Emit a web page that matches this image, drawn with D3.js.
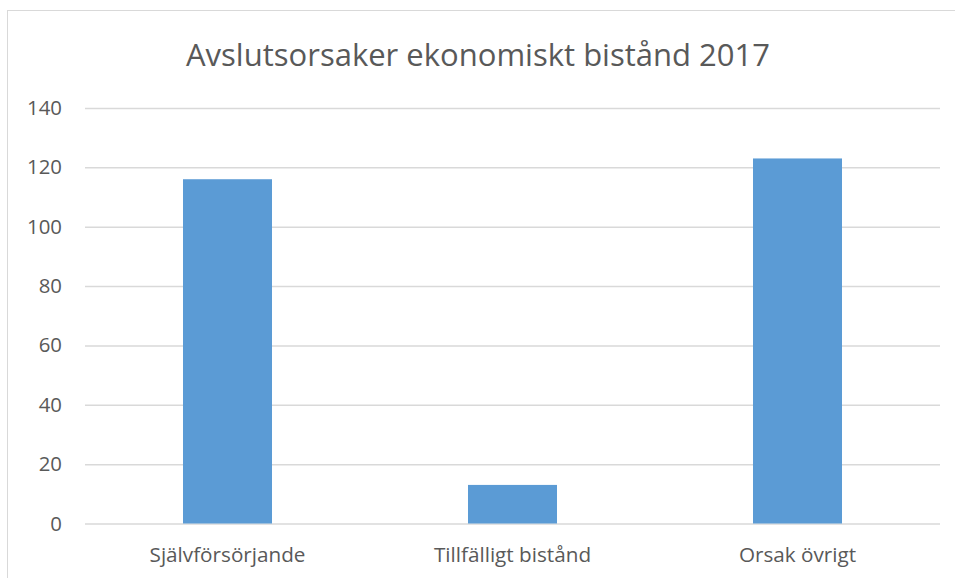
<!DOCTYPE html>
<html>
<head>
<meta charset="utf-8">
<script src="https://cdn.jsdelivr.net/npm/d3@7"></script>
<style>
  body { margin: 0; background: #fff; }
  svg { display: block; font-family: "Open Sans", sans-serif; }
</style>
</head>
<body>
<svg id="chart" width="955" height="578"></svg>
<script>
const title = "Avslutsorsaker ekonomiskt bistånd 2017";
const categories = ["Självförsörjande", "Tillfälligt bistånd", "Orsak övrigt"];
const values = [116, 13, 123];
const yTicks = [0, 20, 40, 60, 80, 100, 120, 140];

const textColor = "#595959";
const gridColor = "#d9d9d9";
const barColor = "#5b9bd5";

var svg = d3.select("#chart");

// chart frame (right/bottom edges fall outside the window)
svg.append("rect")
    .attr("x", 7.5).attr("y", 10.5)
    .attr("width", 960).attr("height", 600)
    .attr("fill", "#fff")
    .attr("stroke", gridColor)
    .attr("stroke-width", 1);

let plot = { left: 85, right: 940, top: 108, bottom: 523.5 };

var y = d3.scaleLinear().domain([0, 140]).range([plot.bottom, plot.top]);
var x = d3.scaleBand().domain(categories).range([plot.left, plot.right])
    .paddingInner(0.6877).paddingOuter(0.6877 / 2);

// shrink/grow a text node's font until it is about the target width
function fitWidth(node, target) {
    let size = parseFloat(node.getAttribute("font-size"));
    let w = node.getComputedTextLength();
    node.setAttribute("font-size", (size * target / w).toFixed(2));
}

// gridlines + y labels
var yAxis = svg.append("g")
    .attr("transform", `translate(${plot.left},0)`)
    .call(d3.axisLeft(y).tickValues(yTicks).tickSize(-(plot.right - plot.left)).tickPadding(23));
yAxis.select(".domain").remove();
yAxis.selectAll(".tick line").attr("stroke", gridColor).attr("stroke-width", 1.5);
yAxis.selectAll(".tick text")
    .attr("fill", textColor)
    .attr("font-family", "Open Sans")
    .attr("font-size", 18);
let ySize = 18 * 35 / yAxis.select(".tick:last-of-type text").node().getComputedTextLength();
yAxis.selectAll(".tick text").attr("font-size", ySize.toFixed(2));

// bars
svg.selectAll(".bar")
    .data(values)
    .enter()
    .append("rect")
    .attr("class", "bar")
    .attr("x", function (d, i) { return x(categories[i]) })
    .attr("y", function (d) { return y(d) })
    .attr("width", x.bandwidth())
    .attr("height", function (d) { return y(0) - y(d) })
    .attr("fill", barColor);

// category labels
var xAxis = svg.append("g")
    .attr("transform", `translate(0,${plot.bottom})`)
    .call(d3.axisBottom(x).tickSize(0).tickPadding(24));
xAxis.select(".domain").remove();
xAxis.selectAll(".tick text")
    .attr("fill", textColor)
    .attr("font-family", "Open Sans")
    .attr("font-size", 18);
let xNode = xAxis.select(".tick text").node();
let xSize = 18 * 156 / xNode.getComputedTextLength();
xAxis.selectAll(".tick text").attr("font-size", xSize.toFixed(2));

// title
var t = svg.append("text")
    .attr("x", 478)
    .attr("y", 66)
    .attr("text-anchor", "middle")
    .attr("fill", textColor)
    .attr("font-size", 32)
    .text(title);
fitWidth(t.node(), 584);
</script>
</body>
</html>
